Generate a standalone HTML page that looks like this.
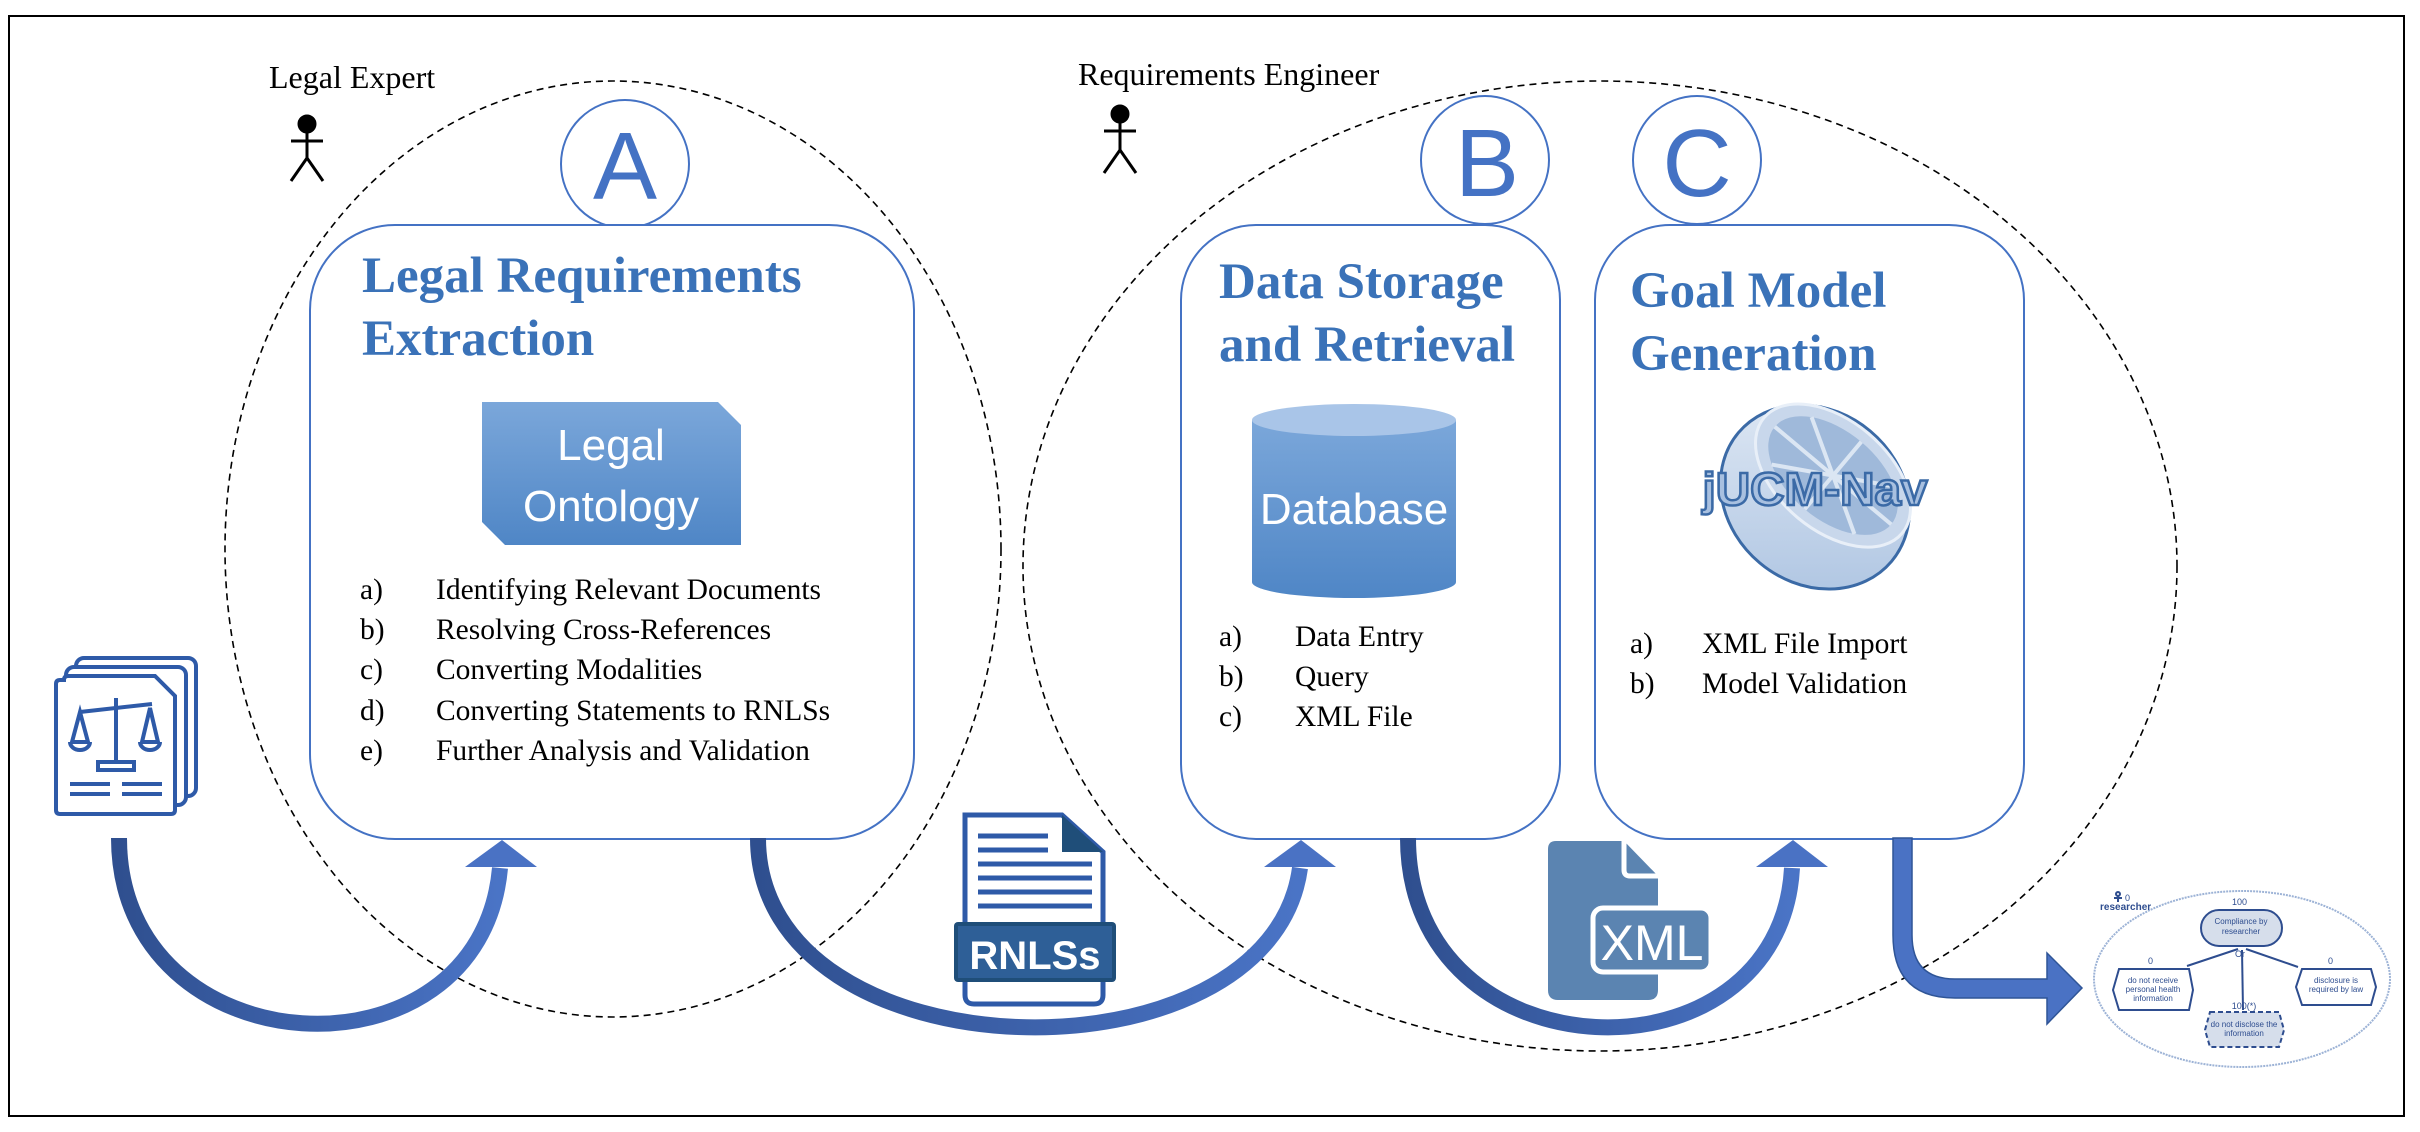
<!DOCTYPE html>
<html><head><meta charset="utf-8"><style>
html,body{margin:0;padding:0;background:#fff;}
svg{display:block;}
.t{font-family:"Liberation Serif",serif;}
.s{font-family:"Liberation Sans","DejaVu Sans",sans-serif;}
</style></head><body>
<svg width="2420" height="1132" viewBox="0 0 2420 1132" xmlns="http://www.w3.org/2000/svg">
<defs>
<linearGradient id="gb" x1="0" y1="0" x2="0" y2="1"><stop offset="0" stop-color="#7ba7da"/><stop offset="1" stop-color="#4f86c6"/></linearGradient>
<linearGradient id="ga" x1="0" y1="0" x2="1" y2="0"><stop offset="0" stop-color="#2f4f8f"/><stop offset="1" stop-color="#4a74c6"/></linearGradient>
<linearGradient id="gl" x1="0" y1="0" x2="1" y2="1"><stop offset="0" stop-color="#e4ecf6"/><stop offset="1" stop-color="#a9c1e0"/></linearGradient>
</defs>
<rect x="9" y="16" width="2395" height="1100" fill="#fff" stroke="#000" stroke-width="2"/>

<!-- dashed ellipses -->
<ellipse cx="613" cy="549" rx="388" ry="468" fill="none" stroke="#000" stroke-width="1.6" stroke-dasharray="7,5"/>
<ellipse cx="1600" cy="566" rx="577" ry="485" fill="none" stroke="#000" stroke-width="1.6" stroke-dasharray="7,5"/>

<!-- actors -->
<text x="269" y="88" class="t" font-size="32">Legal Expert</text>
<g stroke="#000" stroke-width="3" fill="none"><circle cx="307" cy="124" r="8" fill="#000"/><line x1="307" y1="130" x2="307" y2="158"/><line x1="291" y1="141" x2="323" y2="141"/><line x1="307" y1="158" x2="291" y2="181"/><line x1="307" y1="158" x2="323" y2="181"/></g>
<text x="1078" y="85" class="t" font-size="32">Requirements Engineer</text>
<g stroke="#000" stroke-width="3" fill="none"><circle cx="1120" cy="114" r="8" fill="#000"/><line x1="1120" y1="120" x2="1120" y2="150"/><line x1="1104" y1="131" x2="1136" y2="131"/><line x1="1120" y1="150" x2="1104" y2="173"/><line x1="1120" y1="150" x2="1136" y2="173"/></g>

<!-- circles -->
<g fill="#fff" stroke="#4472c4" stroke-width="2">
<circle cx="625" cy="164" r="64"/><circle cx="1485" cy="160" r="64"/><circle cx="1697" cy="160" r="64"/></g>
<g class="s" font-size="96" fill="#4472c4" text-anchor="middle">
<text x="625" y="199">A</text><text x="1487" y="196">B</text><text x="1697" y="196">C</text></g>

<!-- boxes -->
<g fill="#fff" stroke="#4472c4" stroke-width="2">
<rect x="310" y="225" width="604" height="614" rx="85"/>
<rect x="1181" y="225" width="379" height="614" rx="75"/>
<rect x="1595" y="225" width="429" height="614" rx="75"/>
</g>
<g class="t" font-weight="bold" font-size="51" fill="#3a72b8">
<text x="362" y="292">Legal Requirements</text><text x="362" y="355">Extraction</text>
<text x="1219" y="298">Data Storage</text><text x="1219" y="361">and Retrieval</text>
<text x="1630" y="307">Goal Model</text><text x="1630" y="370">Generation</text>
</g>

<!-- legal ontology -->
<polygon points="482,402 718,402 741,425 741,545 505,545 482,522" fill="url(#gb)"/>
<g class="s" font-size="44" fill="#fff" text-anchor="middle"><text x="611" y="460">Legal</text><text x="611" y="521">Ontology</text></g>

<!-- database -->
<path d="M1252,420 L1252,582 A102,16 0 0 0 1456,582 L1456,420 Z" fill="url(#gb)"/>
<ellipse cx="1354" cy="420" rx="102" ry="16" fill="#a9c5e8"/>
<text x="1354" y="524" class="s" font-size="44" fill="#fff" text-anchor="middle">Database</text>

<!-- jucm logo -->
<g transform="translate(1815,497) rotate(40)">
<ellipse cx="0" cy="0" rx="100" ry="86" fill="url(#gl)" stroke="#3b6aa6" stroke-width="3"/>
<ellipse cx="0" cy="-28" rx="90" ry="55" fill="#c8d7eb" stroke="#e8eff8" stroke-width="3"/>
<ellipse cx="0" cy="-28" rx="76" ry="44" fill="#9fb9da"/>
<g stroke="#dbe6f3" stroke-width="4">
<line x1="-76" y1="-28" x2="76" y2="-28"/><line x1="0" y1="-72" x2="0" y2="16"/>
<line x1="-54" y1="-59" x2="54" y2="3"/><line x1="-54" y1="3" x2="54" y2="-59"/></g>
</g>
<text x="1815" y="505" class="s" font-size="46" font-weight="bold" fill="#a8c0e0" stroke="#3b6aa6" stroke-width="2.5" text-anchor="middle" textLength="225" lengthAdjust="spacingAndGlyphs">jUCM-Nav</text>

<!-- lists -->
<g class="t" font-size="29.5" fill="#000">
<text x="360" y="599">a)</text><text x="436" y="599">Identifying Relevant Documents</text>
<text x="360" y="639">b)</text><text x="436" y="639">Resolving Cross-References</text>
<text x="360" y="679">c)</text><text x="436" y="679">Converting Modalities</text>
<text x="360" y="720">d)</text><text x="436" y="720">Converting Statements to RNLSs</text>
<text x="360" y="760">e)</text><text x="436" y="760">Further Analysis and Validation</text>
<text x="1219" y="646">a)</text><text x="1295" y="646">Data Entry</text>
<text x="1219" y="686">b)</text><text x="1295" y="686">Query</text>
<text x="1219" y="726">c)</text><text x="1295" y="726">XML File</text>
<text x="1630" y="653">a)</text><text x="1702" y="653">XML File Import</text>
<text x="1630" y="693">b)</text><text x="1702" y="693">Model Validation</text>
</g>

<!-- legal doc icon -->
<g stroke="#2e5aa8" stroke-width="4" fill="#fff">
<rect x="76" y="658" width="120" height="138" rx="8"/>
<rect x="66" y="667" width="120" height="138" rx="8"/>
<path d="M64,680 Q64,676 68,676 L155,676 L175,696 L175,810 Q175,814 171,814 L60,814 Q56,814 56,810 L56,684 Q56,680 60,680 Z"/>
</g>
<g stroke="#2e5aa8" stroke-width="4" fill="none">
<line x1="116" y1="698" x2="116" y2="762"/><line x1="80" y1="712" x2="152" y2="704"/>
<path d="M72,742 L80,712 L88,742 Z M142,742 L150,708 L158,742 Z"/>
<path d="M70,742 A10,8 0 0 0 90,742 M140,742 A10,8 0 0 0 160,742"/>
<rect x="98" y="762" width="36" height="8"/>
<line x1="70" y1="784" x2="110" y2="784"/><line x1="122" y1="784" x2="162" y2="784"/>
<line x1="70" y1="794" x2="110" y2="794"/><line x1="122" y1="794" x2="162" y2="794"/>
</g>

<!-- arrows -->
<g fill="none" stroke="url(#ga)" stroke-width="16">
<path d="M119,838 C119,1070 480,1090 500,868"/>
<path d="M758,838 C758,1080 1270,1090 1300,868"/>
<path d="M1408,838 C1408,1080 1780,1090 1792,868"/>
</g>
<g fill="#4a72c4">
<polygon points="502,840 465,867 537,867"/>
<polygon points="1301,840 1264,867 1336,867"/>
<polygon points="1793,840 1756,867 1828,867"/>
</g>
<path d="M1893,838 L1912,838 L1912,935 Q1912,979 1955,979 L2047,979 L2047,953 L2082,988 L2047,1024 L2047,998 L1955,998 Q1893,998 1893,935 Z" fill="#4a72c4" stroke="#2f5597" stroke-width="1.5"/>

<!-- RNLSs icon -->
<path d="M965,815 L1062,815 L1103,852 L1103,995 Q1103,1004 1094,1004 L974,1004 Q965,1004 965,995 Z" fill="#fff" stroke="#2e5aa8" stroke-width="5"/>
<path d="M1062,815 L1062,852 L1103,852 Z" fill="#1f4e79"/>
<g stroke="#2e5aa8" stroke-width="5"><line x1="978" y1="836" x2="1048" y2="836"/><line x1="978" y1="850" x2="1048" y2="850"/><line x1="978" y1="864" x2="1092" y2="864"/><line x1="978" y1="878" x2="1092" y2="878"/><line x1="978" y1="892" x2="1092" y2="892"/><line x1="978" y1="906" x2="1092" y2="906"/></g>
<rect x="954" y="922" width="162" height="60" rx="4" fill="#1f4e79"/>
<rect x="958" y="926" width="154" height="52" fill="#2e5f97"/>
<text x="1035" y="969" class="s" font-size="40" font-weight="bold" fill="#fff" text-anchor="middle">RNLSs</text>

<!-- XML icon -->
<path d="M1556,841 L1624,841 L1658,876 L1658,990 Q1658,1000 1648,1000 L1558,1000 Q1548,1000 1548,990 L1548,849 Q1548,841 1556,841 Z" fill="#5b84b1"/>
<path d="M1624,841 L1624,870 Q1624,876 1630,876 L1658,876" fill="none" stroke="#fff" stroke-width="5"/>
<rect x="1593" y="908" width="118" height="64" rx="10" fill="#5b84b1" stroke="#fff" stroke-width="5"/>
<text x="1652" y="960" class="s" font-size="50" fill="#fff" text-anchor="middle">XML</text>

<!-- goal model mini -->
<ellipse cx="2242" cy="979" rx="148" ry="88" fill="#fff" stroke="#9db3d6" stroke-width="2" stroke-dasharray="2,1"/>
<g class="s" fill="#2e4d8f" font-size="8">
<text x="2100" y="910" font-weight="bold" font-size="10">researcher</text>
<text x="2125" y="901" font-size="9">0</text>
<text x="2232" y="905" font-size="9">100</text>
<text x="2148" y="964" font-size="9">0</text><text x="2328" y="964" font-size="9">0</text>
<text x="2235" y="957" font-size="9">Or</text>
</g>
<g stroke="#2e4d8f" stroke-width="2" fill="none">
<circle cx="2118" cy="894" r="2"/><line x1="2118" y1="896" x2="2118" y2="902"/><line x1="2114" y1="898" x2="2122" y2="898"/>
<line x1="2238" y1="949" x2="2187" y2="966"/><line x1="2246" y1="949" x2="2298" y2="967"/><line x1="2242" y1="950" x2="2243" y2="1010"/>
<rect x="2201" y="910" width="81" height="36" rx="18" fill="#d6deeb"/>
<polygon points="2119,969 2189,969 2193,990 2189,1010 2119,1010 2113,990" fill="#fff"/>
<polygon points="2302,969 2371,969 2376,987 2371,1005 2302,1005 2296,987" fill="#fff"/>
<polygon points="2210,1012 2279,1012 2284,1030 2279,1047 2210,1047 2205,1030" fill="#d6deeb" stroke-dasharray="5,3"/>
</g>
<g class="s" fill="#2e4d8f" font-size="8" text-anchor="middle">
<text x="2241" y="924">Compliance by</text><text x="2241" y="934">researcher</text>
<text x="2153" y="983">do not receive</text><text x="2153" y="992">personal health</text><text x="2153" y="1001">information</text>
<text x="2336" y="983">disclosure is</text><text x="2336" y="992">required by law</text>
<text x="2244" y="1027">do not disclose the</text><text x="2244" y="1036">information</text>
<text x="2244" y="1009" font-size="9">100(*)</text>
</g>
</svg>
</body></html>
